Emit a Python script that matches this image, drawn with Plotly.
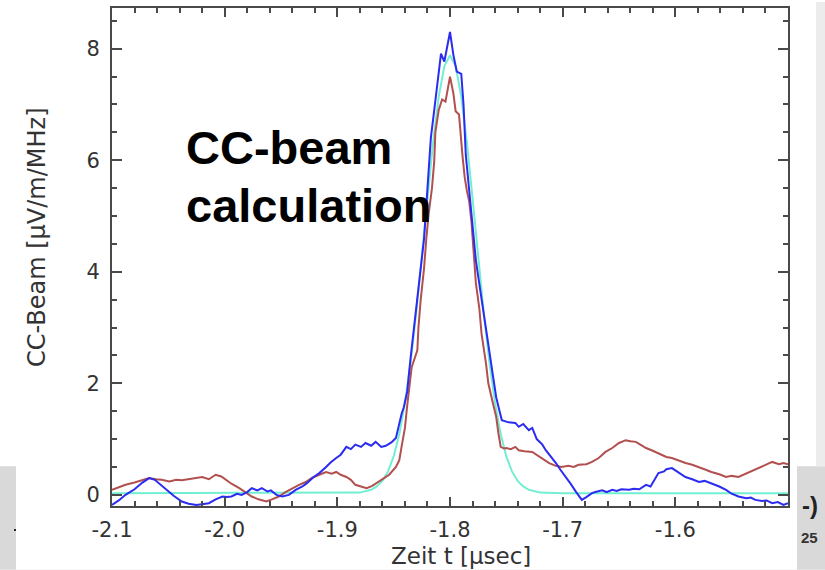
import plotly.graph_objects as go

# Measured CC-beam (blue) trace
blue_t = [-2.100, -2.094, -2.088, -2.080, -2.073, -2.067, -2.062, -2.058, -2.052, -2.045,
          -2.038, -2.032, -2.025, -2.019, -2.014, -2.008, -2.002, -1.998, -1.994, -1.989,
          -1.985, -1.980, -1.976, -1.971, -1.967, -1.962, -1.959, -1.954, -1.949, -1.943,
          -1.937, -1.931, -1.927, -1.921, -1.916, -1.910, -1.906, -1.901, -1.897, -1.892,
          -1.888, -1.884, -1.879, -1.875, -1.870, -1.866, -1.861, -1.857, -1.852, -1.848,
          -1.845, -1.843, -1.841, -1.838, -1.835, -1.832, -1.829, -1.826, -1.823, -1.820,
          -1.817, -1.814, -1.811, -1.808, -1.805, -1.800, -1.797, -1.794, -1.790, -1.788,
          -1.786, -1.783, -1.780, -1.777, -1.773, -1.770, -1.766, -1.762, -1.759, -1.756,
          -1.754, -1.748, -1.742, -1.739, -1.735, -1.730, -1.727, -1.723, -1.718, -1.715,
          -1.711, -1.706, -1.702, -1.697, -1.693, -1.688, -1.683, -1.679, -1.674, -1.671,
          -1.665, -1.661, -1.656, -1.652, -1.648, -1.641, -1.637, -1.632, -1.626, -1.622,
          -1.618, -1.615, -1.610, -1.608, -1.603, -1.597, -1.591, -1.585, -1.579, -1.574,
          -1.568, -1.561, -1.555, -1.550, -1.544, -1.537, -1.533, -1.529, -1.523, -1.519,
          -1.514, -1.509, -1.504, -1.500]
blue_v = [-0.18, -0.10, 0.00, 0.10, 0.22, 0.30, 0.27, 0.20, 0.09, -0.02,
          -0.12, -0.16, -0.18, -0.17, -0.15, -0.08, -0.03, -0.04, -0.03, 0.02,
          0.00, 0.05, 0.12, 0.08, 0.12, 0.06, 0.08, 0.00, -0.03, 0.00,
          0.09, 0.15, 0.21, 0.32, 0.39, 0.50, 0.58, 0.66, 0.72, 0.86,
          0.82, 0.90, 0.86, 0.93, 0.88, 0.95, 0.86, 0.88, 0.94, 1.02,
          1.29, 1.45, 1.57, 1.85, 2.45, 3.00, 3.50, 4.05, 4.60, 5.50,
          6.40, 6.90, 7.40, 7.91, 7.77, 8.30, 7.89, 7.59, 7.55, 7.00,
          6.10, 5.50, 4.85, 4.20, 3.65, 3.20, 2.70, 2.15, 1.75, 1.50,
          1.34, 1.30, 1.29, 1.22, 1.27, 1.16, 1.20, 1.00, 0.90, 0.80,
          0.70, 0.57, 0.45, 0.32, 0.20, 0.05, -0.09, -0.04, 0.03, 0.05,
          0.08, 0.05, 0.09, 0.07, 0.10, 0.09, 0.11, 0.10, 0.18, 0.15,
          0.28, 0.39, 0.42, 0.46, 0.48, 0.40, 0.32, 0.28, 0.23, 0.25,
          0.21, 0.15, 0.09, 0.02, -0.03, -0.06, -0.05, -0.09, -0.11, -0.10,
          -0.15, -0.13, -0.18, -0.15]

# Second measured trace (red)
red_t = [-2.100, -2.094, -2.088, -2.080, -2.073, -2.067, -2.061, -2.056, -2.049, -2.043,
         -2.038, -2.032, -2.025, -2.020, -2.014, -2.008, -2.003, -1.999, -1.994, -1.987,
         -1.981, -1.976, -1.970, -1.963, -1.958, -1.952, -1.946, -1.940, -1.934, -1.928,
         -1.923, -1.916, -1.910, -1.905, -1.901, -1.897, -1.892, -1.888, -1.884, -1.879,
         -1.874, -1.869, -1.865, -1.860, -1.854, -1.848, -1.845, -1.843, -1.840, -1.838,
         -1.836, -1.834, -1.829, -1.828, -1.826, -1.823, -1.821, -1.819, -1.816, -1.814,
         -1.813, -1.810, -1.807, -1.804, -1.800, -1.797, -1.795, -1.792, -1.789, -1.787,
         -1.785, -1.783, -1.781, -1.777, -1.774, -1.772, -1.768, -1.766, -1.762, -1.759,
         -1.757, -1.755, -1.752, -1.750, -1.746, -1.742, -1.739, -1.734, -1.727, -1.723,
         -1.719, -1.712, -1.706, -1.701, -1.695, -1.690, -1.686, -1.679, -1.674, -1.668,
         -1.662, -1.656, -1.650, -1.644, -1.640, -1.635, -1.631, -1.626, -1.621, -1.615,
         -1.608, -1.603, -1.597, -1.591, -1.585, -1.579, -1.573, -1.568, -1.561, -1.555,
         -1.550, -1.544, -1.537, -1.532, -1.526, -1.520, -1.514, -1.508, -1.504, -1.500]
red_v = [0.09, 0.14, 0.18, 0.22, 0.27, 0.30, 0.28, 0.27, 0.24, 0.27,
         0.26, 0.28, 0.30, 0.32, 0.28, 0.36, 0.33, 0.27, 0.20, 0.12,
         0.04, -0.03, -0.08, -0.12, -0.08, -0.03, 0.05, 0.12, 0.18, 0.23,
         0.30, 0.36, 0.41, 0.38, 0.41, 0.36, 0.32, 0.27, 0.18, 0.15,
         0.12, 0.16, 0.21, 0.27, 0.36, 0.50, 0.62, 0.86, 1.20, 1.60,
         2.00, 2.29, 2.59, 3.00, 3.50, 4.07, 4.60, 5.03, 5.50, 5.98,
         6.50, 6.90, 7.09, 7.05, 7.50, 7.20, 6.88, 6.82, 6.10, 5.70,
         5.45, 5.27, 4.91, 3.79, 3.35, 2.89, 2.35, 2.00, 1.65, 1.40,
         1.10, 0.86, 0.83, 0.84, 0.82, 0.86, 0.80, 0.78, 0.77, 0.72,
         0.66, 0.57, 0.52, 0.50, 0.52, 0.50, 0.54, 0.55, 0.59, 0.66,
         0.77, 0.84, 0.93, 0.98, 0.96, 0.95, 0.90, 0.84, 0.80, 0.75,
         0.68, 0.66, 0.61, 0.57, 0.54, 0.50, 0.45, 0.41, 0.37, 0.32,
         0.34, 0.32, 0.38, 0.43, 0.48, 0.54, 0.59, 0.55, 0.57, 0.55]

# Calculated beam profile (cyan)
cyan_t = [-2.10, -1.90, -1.88, -1.87, -1.865, -1.86, -1.855, -1.85, -1.845, -1.84,
          -1.835, -1.83, -1.825, -1.82, -1.815, -1.81, -1.805, -1.80, -1.795, -1.79,
          -1.785, -1.78, -1.775, -1.77, -1.765, -1.76, -1.755, -1.75, -1.745, -1.74,
          -1.735, -1.73, -1.72, -1.70, -1.50]
cyan_v = [0.03, 0.03, 0.04, 0.09, 0.15, 0.25, 0.42, 0.69, 1.09, 1.65,
          2.37, 3.26, 4.26, 5.32, 6.32, 7.14, 7.69, 7.88, 7.69, 7.14,
          6.32, 5.32, 4.26, 3.26, 2.37, 1.65, 1.09, 0.69, 0.42, 0.25,
          0.15, 0.09, 0.04, 0.03, 0.03]

x_ticks = [-2.1, -2.0, -1.9, -1.8, -1.7, -1.6]
x_tick_text = ["-2.1", "-2.0", "-1.9", "-1.8", "-1.7", "-1.6"]
y_ticks = [0, 2, 4, 6, 8]
y_tick_text = ["0", "2", "4", "6", "8"]

# plot-area geometry in pixels, used to place titles and page decorations
W, H = 825, 570
L, R, T, B = 112, 37, 6, 64
PW, PH = W - L - R, H - T - B


def px(xp):
    return (xp - L) / PW


def py(yp):
    return (H - B - yp) / PH


fig = go.Figure()
fig.add_trace(go.Scatter(x=cyan_t, y=cyan_v, mode="lines",
                         line=dict(color="#72efd2", width=2), showlegend=False))
fig.add_trace(go.Scatter(x=red_t, y=red_v, mode="lines",
                         line=dict(color="#b24f4f", width=2), showlegend=False))
fig.add_trace(go.Scatter(x=blue_t, y=blue_v, mode="lines",
                         line=dict(color="#2b2bf2", width=2), showlegend=False))

axis_col = "#4a4a4a"
tick_font = dict(family="DejaVu Sans", size=21, color="#333333")

fig.update_xaxes(
    range=[-2.1, -1.5], tickvals=x_ticks, ticktext=x_tick_text,
    ticks="inside", ticklen=9, tickwidth=2, tickcolor=axis_col,
    showline=True, linewidth=2, linecolor=axis_col, mirror="allticks",
    minor=dict(dtick=0.02, tick0=-2.1, ticks="inside", ticklen=5,
               tickwidth=2, tickcolor=axis_col, showgrid=False),
    showgrid=False, zeroline=False, tickfont=tick_font, ticklabelstandoff=4,
)
fig.update_yaxes(
    range=[-0.2, 8.73], tickvals=y_ticks, ticktext=y_tick_text,
    ticks="inside", ticklen=10, tickwidth=2, tickcolor=axis_col,
    showline=True, linewidth=2, linecolor=axis_col, mirror="allticks",
    minor=dict(dtick=0.5, tick0=0, ticks="inside", ticklen=5,
               tickwidth=2, tickcolor=axis_col, showgrid=False),
    showgrid=False, zeroline=False, tickfont=tick_font, ticklabelstandoff=6,
)

shapes = [
    # grey band along the bottom of the page
    dict(type="rect", xref="paper", yref="paper", x0=px(0), x1=px(W), y0=py(H), y1=py(466),
         fillcolor="#d9d9d9", line_width=0, layer="below"),
    # light strip on the right edge
    dict(type="rect", xref="paper", yref="paper", x0=px(816), x1=px(W), y0=py(466), y1=py(0),
         fillcolor="#ececec", line_width=0, layer="below"),
    # white chart panel
    dict(type="rect", xref="paper", yref="paper", x0=px(16), x1=px(797), y0=py(H), y1=py(0),
         fillcolor="white", line_width=0, layer="below"),
    # small bullet mark at the left edge
    dict(type="rect", xref="paper", yref="paper", x0=px(14), x1=px(16), y0=py(531), y1=py(529),
         fillcolor="#222222", line_width=0, layer="above"),
]

label_font = dict(family="DejaVu Sans", size=23, color="#333333")
big_font = dict(family="Liberation Sans", size=47, color="black", weight="bold")

annotations = [
    # axis titles
    dict(text="Zeit t [µsec]", xref="paper", yref="paper", x=px(461), y=py(556),
         xanchor="center", yanchor="middle", showarrow=False, font=label_font),
    dict(text="CC-Beam [µV/m/MHz]", xref="paper", yref="paper", x=px(37), y=py(236),
         xanchor="center", yanchor="middle", showarrow=False, textangle=-90,
         font=dict(family="DejaVu Sans", size=24, color="#333333")),
    # chart label
    dict(text="CC-beam", xref="paper", yref="paper", x=px(184), y=py(146),
         xanchor="left", yanchor="middle", showarrow=False, font=big_font),
    dict(text="calculation", xref="paper", yref="paper", x=px(184), y=py(204),
         xanchor="left", yanchor="middle", showarrow=False, font=big_font),
    # page furniture
    dict(text="-)", xref="paper", yref="paper", x=px(810), y=py(505),
         xanchor="center", yanchor="middle", showarrow=False,
         font=dict(family="Liberation Sans", size=24, color="#222222", weight="bold")),
    dict(text="25", xref="paper", yref="paper", x=px(809), y=py(538),
         xanchor="center", yanchor="middle", showarrow=False,
         font=dict(family="Liberation Sans", size=15, color="#333333", weight="bold")),
]

fig.update_layout(
    width=W, height=H,
    margin=dict(l=L, r=R, t=T, b=B),
    paper_bgcolor="white", plot_bgcolor="rgba(0,0,0,0)",
    shapes=shapes, annotations=annotations, showlegend=False,
)

fig.write_html("out.html")
